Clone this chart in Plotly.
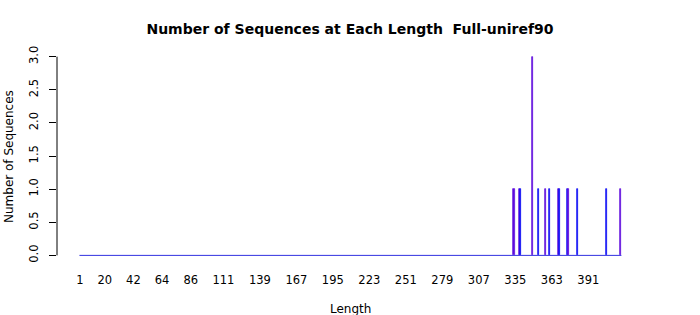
import plotly.graph_objects as go

# Data (sequence length -> number of sequences)
lengths = [334, 338, 339, 348, 353, 358, 361, 368, 369, 375, 376, 383, 405, 416]
counts = [1, 1, 1, 3, 1, 1, 1, 1, 1, 1, 1, 1, 1, 1]
length_min, length_max = 1, 416  # full category range (all other lengths have 0)
x_tick_labels = [1, 20, 42, 64, 86, 111, 139, 167, 195, 223, 251, 279, 307, 335, 363, 391]
y_ticks = [0.0, 0.5, 1.0, 1.5, 2.0, 2.5, 3.0]

BLUE = "#0A0AF5"
PURPLE = "#5E0CDC"
bar_colors = [BLUE if L % 2 == 1 else PURPLE for L in lengths]

W, H = 700, 315
ml, mr = 57, 60
mt, mb = 50.4, 53.4
plot_w = W - ml - mr
plot_h = H - mt - mb

fig = go.Figure()

# zero-height bars along the baseline
fig.add_trace(go.Scatter(
    x=[length_min - 0.42, length_max + 0.42], y=[0, 0], mode="lines",
    line=dict(color="#3030E0", width=1), hoverinfo="skip", showlegend=False))

fig.add_trace(go.Bar(
    x=lengths, y=counts, width=0.83,
    marker=dict(color=bar_colors, line=dict(color=bar_colors, width=0.7)),
    showlegend=False))

font = "DejaVu Sans, Liberation Sans, sans-serif"

def px_x(px):
    return (px - ml) / plot_w

def px_y(py):
    return (H - mb - py) / plot_h

fig.update_layout(
    width=W, height=H,
    margin=dict(l=ml, r=mr, t=mt, b=mb, autoexpand=False),
    paper_bgcolor="white", plot_bgcolor="white",
    font=dict(family=font, size=11, color="black"),
    title=dict(text="<b>Number of Sequences at Each Length\u00a0\u00a0Full-uniref90</b>",
               x=0.5, xanchor="center", y=1 - 29 / H, yanchor="middle",
               font=dict(size=14, family=font, color="black")),
    bargap=0,
    xaxis=dict(range=[-16.647, 430.68], showgrid=False, zeroline=False, showline=False,
               tickmode="array", tickvals=x_tick_labels, ticktext=[str(v) for v in x_tick_labels],
               ticks="outside", ticklen=7, tickcolor="rgba(0,0,0,0)",
               tickfont=dict(size=11.5), automargin=False, fixedrange=True),
    yaxis=dict(range=[-0.1, 3.1], showgrid=False, zeroline=False, showline=False,
               tickmode="array", tickvals=y_ticks, ticktext=[f"{v:.1f}" for v in y_ticks],
               ticks="outside", ticklen=7, tickcolor="black", tickwidth=1,
               ticklabelstandoff=6,
               tickangle=-90, tickfont=dict(size=11.5), automargin=False, fixedrange=True),
    shapes=[dict(type="line", xref="paper", yref="y", x0=0, x1=0, y0=0, y1=3,
                 line=dict(color="black", width=1))],
    annotations=[
        dict(text="Length", xref="paper", yref="paper", x=px_x(350), y=px_y(308),
             xanchor="center", yanchor="middle", showarrow=False, font=dict(size=12)),
        dict(text="Number of Sequences", xref="paper", yref="paper", x=px_x(9), y=px_y(157),
             xanchor="center", yanchor="middle", textangle=-90, showarrow=False,
             font=dict(size=12)),
    ],
)

fig.write_html("out.html")
